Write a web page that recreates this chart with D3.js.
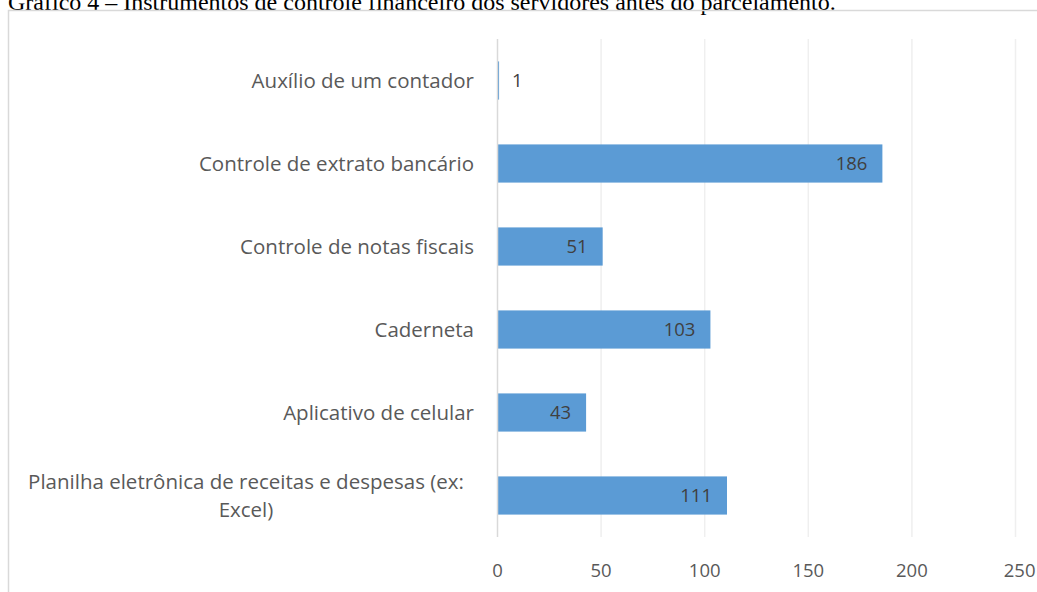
<!DOCTYPE html>
<html>
<head>
<meta charset="utf-8">
<script src="https://cdn.jsdelivr.net/npm/d3@7"></script>
<style>
    body { margin: 0; background: #fff; overflow: hidden; }
    svg { display: block; }
</style>
</head>
<body>
<div id="chart"></div>
<script>
const categories = [
    "Auxílio de um contador",
    "Controle de extrato bancário",
    "Controle de notas fiscais",
    "Caderneta",
    "Aplicativo de celular",
    "Planilha eletrônica de receitas e despesas (ex: Excel)"
];
const values = [1, 186, 51, 103, 43, 111];
const xTicks = [0, 50, 100, 150, 200, 250];
const title = "Gráfico 4 – Instrumentos de controle financeiro dos servidores antes do parcelamento.";

const W = 1037, H = 592;
const plot = { left: 497, right: 1015, top: 39, bottom: 537 };

const svg = d3.select("#chart")
    .append("svg")
    .attr("width", W)
    .attr("height", H);

svg.append("text")
    .attr("x", 8)
    .attr("y", 10)
    .attr("font-family", "'Liberation Serif', 'Times New Roman', serif")
    .attr("font-size", 24)
    .attr("fill", "#000")
    .text(title);

// chart frame
svg.append("rect")
    .attr("x", 8.5)
    .attr("y", 10.5)
    .attr("width", W)
    .attr("height", H)
    .attr("fill", "none")
    .attr("stroke", "#d9d9d9")
    .attr("stroke-width", 1.5);

const x = d3.scaleLinear()
    .domain([0, 250])
    .range([plot.left, plot.right]);

const y = d3.scaleBand()
    .domain(categories)
    .range([plot.top, plot.bottom])
    .paddingInner(0.54)
    .paddingOuter(0.27);

// gridlines
svg.append("g")
    .selectAll("line")
    .data(xTicks.slice(1))
    .enter()
    .append("line")
    .attr("x1", d => x(d) + 0.5)
    .attr("x2", d => x(d) + 0.5)
    .attr("y1", plot.top)
    .attr("y2", plot.bottom)
    .attr("stroke", "#efefef")
    .attr("stroke-width", 1.5);

svg.selectAll("rect.bar")
    .data(values)
    .enter()
    .append("rect")
    .attr("class", "bar")
    .attr("x", x(0))
    .attr("y", (d, i) => y(categories[i]))
    .attr("width", d => x(d) - x(0))
    .attr("height", y.bandwidth())
    .attr("fill", "#5b9bd5");

// vertical axis line
svg.append("line")
    .attr("x1", x(0) + 0.5)
    .attr("x2", x(0) + 0.5)
    .attr("y1", plot.top)
    .attr("y2", plot.bottom)
    .attr("stroke", "#d9d9d9")
    .attr("stroke-width", 1.5);

const labelFont = "'Open Sans', 'Noto Sans', sans-serif";
const fs = 18.5;

// value labels
svg.selectAll("text.val")
    .data(values)
    .enter()
    .append("text")
    .attr("class", "val")
    .attr("x", d => d < 10 ? x(d) + 13 : x(d) - 15)
    .attr("y", (d, i) => y(categories[i]) + y.bandwidth() / 2)
    .attr("dy", "0.36em")
    .attr("text-anchor", d => d < 10 ? "start" : "end")
    .attr("font-family", labelFont)
    .attr("font-size", fs)
    .attr("fill", "#404040")
    .text(d => d);

// category labels
const catGroup = svg.append("g");
categories.forEach(c => {
    const cy = y(c) + y.bandwidth() / 2;
    const lines = c.startsWith("Planilha")
        ? ["Planilha eletrônica de receitas e despesas (ex:", "Excel)"]
        : [c];
    const t = catGroup.append("text")
        .attr("text-anchor", lines.length > 1 ? "middle" : "end")
        .attr("font-family", labelFont)
        .attr("font-size", 20.5)
        .attr("fill", "#595959");
    lines.forEach((ln, k) => {
        t.append("tspan")
            .attr("x", lines.length > 1 ? 246 : 474)
            .attr("y", cy + (k - (lines.length - 1) / 2) * 28)
            .attr("dy", "0.36em")
            .text(ln);
    });
});

// x axis
const xAxis = d3.axisBottom(x)
    .tickValues(xTicks)
    .tickSize(0)
    .tickPadding(0);

const gx = svg.append("g")
    .attr("transform", `translate(0, 570)`)
    .call(xAxis);
gx.select(".domain").remove();
gx.selectAll("text")
    .attr("dy", "0.36em")
    .attr("font-family", labelFont)
    .attr("font-size", fs)
    .attr("fill", "#595959");
gx.selectAll(".tick:last-of-type text").attr("text-anchor", "end").attr("x", 20);
</script>
</body>
</html>
